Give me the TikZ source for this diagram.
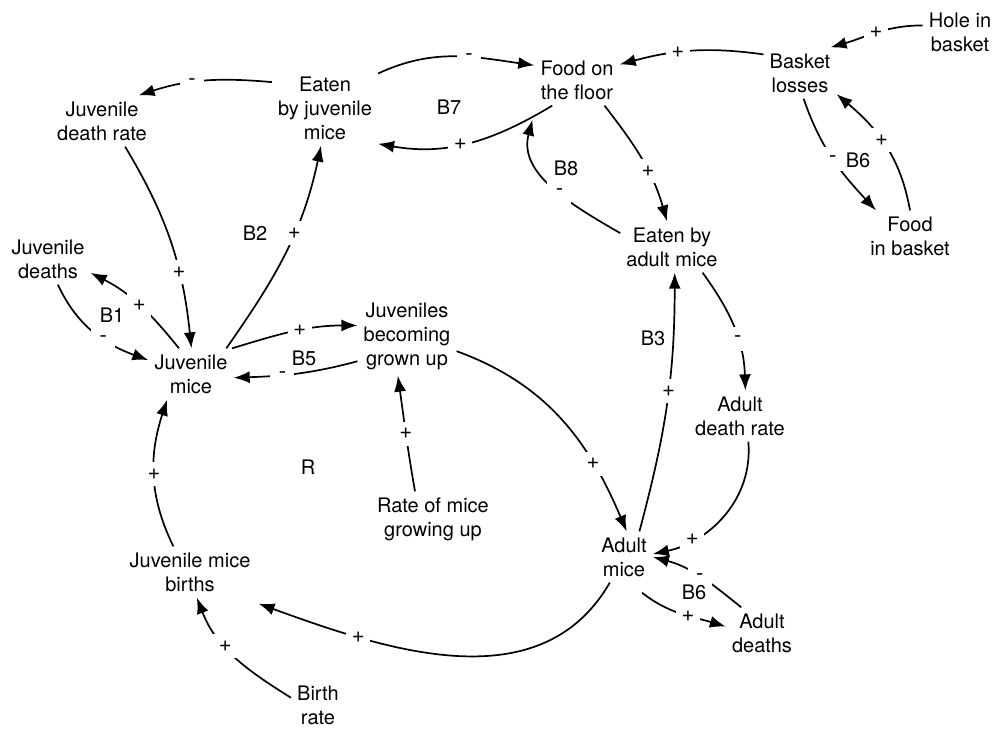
\documentclass[tikz,border=0pt]{standalone}
\usepackage{fontspec}
\setmainfont{TeX Gyre Heros}
\usetikzlibrary{arrows.meta}
\tikzset{var/.style={align=center,inner sep=6pt},
  sgn/.style={fill=white,inner sep=1pt,minimum size=24pt,font=\fontsize{22}{24}\selectfont},
  loopname/.style={inner sep=1pt},
  link/.style={-{Latex[length=16pt,width=12pt]},line width=1.7pt}}

\begin{document}
\begin{tikzpicture}[x=1pt,y=1pt,font=\fontsize{20}{24}\selectfont]
\useasboundingbox (0,0) rectangle (996,-729);
\node[var] (food) at (577,-80) {Food on\\the floor};
\node[var] (losses) at (800,-73) {Basket\\losses};
\node[var] (hole) at (960,-32) {Hole in\\basket};
\node[var] (jdrate) at (102,-121) {Juvenile\\death rate};
\node[var] (eatenj) at (325,-108) {Eaten\\by juvenile\\mice};
\node[var] (fbasket) at (910,-236) {Food\\in basket};
\node[var] (eatena) at (672,-247) {Eaten by\\adult mice};
\node[var] (jdeaths) at (48,-259) {Juvenile\\deaths};
\node[var] (jmice) at (191,-374) {Juvenile\\mice};
\node[var] (grown) at (407,-336) {Juveniles\\becoming\\grown up};
\node[var] (adrate) at (740,-416) {Adult\\death rate};
\node[var] (rategrow) at (433,-519) {Rate of mice\\growing up};
\node[var] (births) at (190,-572) {Juvenile mice\\births};
\node[var] (amice) at (624,-557) {Adult\\mice};
\node[var] (adeaths) at (762,-633) {Adult\\deaths};
\node[var] (brate) at (318,-705) {Birth\\rate};
\draw[link] (eatenj.154) to[out=175,in=18] node[sgn,pos=0.6]{-} (jdrate.35);
\draw[link] (eatenj.33) to[out=25,in=172] node[sgn,pos=0.6]{-} (food.161);
\draw[link] (food.226) to[out=211,in=-10] node[sgn,pos=0.55]{+} (eatenj.326);
\draw[link] (losses.153) to[out=172,in=15] node[sgn,pos=0.6]{+} (food.20);
\draw[link] (hole.170) to[out=180,in=16] node[sgn,pos=0.5]{+} (losses.40);
\draw[link] (losses.278) to[out=-71,in=133] node[sgn,pos=0.5]{-} (fbasket.143);
\draw[link] (fbasket.90) to[out=100,in=-40] node[sgn,pos=0.55]{+} (losses.330);
\draw[link] (food.317) to[out=-52,in=106] node[sgn,pos=0.6]{+} (eatena.101);
\draw[link] (eatena.165) to[out=150,in=255] node[sgn,pos=0.44]{-} ([shift={(-16,-14)}]food.222);
\draw[link] (jdrate.312) to[out=-59,in=96] node[sgn,pos=0.65]{+} (jmice.89);
\draw[link] (jmice.115) to[out=129,in=-27] node[sgn,pos=0.5]{+} (jdeaths.342);
\draw[link] (jdeaths.291) to[out=-65,in=160] node[sgn,pos=0.6]{-} (jmice.162);
\draw[link] (jmice.36) to[out=55,in=258] node[sgn,pos=0.6]{+} (eatenj.264);
\draw[link] (jmice.32) to[out=17,in=180] node[sgn,pos=0.55]{+} (grown.168);
\draw[link] (grown.207) to[out=195,in=2] node[sgn,pos=0.62]{-} (jmice.355);
\draw[link] (rategrow.123) to[out=100,in=278] node[sgn,pos=0.5]{+} (grown.257);
\draw[link] (grown.343) to[out=-20,in=113] node[sgn,pos=0.72]{+} (amice.84);
\draw[link] (amice.59) to[out=75,in=270] node[sgn,pos=0.55]{+} (eatena.276);
\draw[link] (eatena.320) to[out=-54,in=92] node[sgn,pos=0.6]{-} (adrate.78);
\draw[link] (adrate.288) to[out=-85,in=12] node[sgn,pos=0.75]{+} (amice.6);
\draw[link] (adeaths.129) to[out=141,in=-15] node[sgn,pos=0.5]{-} (amice.0);
\draw[link] ([yshift=-10pt]amice.305) to[out=-38,in=163] node[sgn,pos=0.58]{+} (adeaths.170);
\draw[link] (amice.241) to[out=240,in=340] node[sgn,pos=0.75]{+} ([shift={(2,-6)}]births.south east);
\draw[link] (brate.165) to[out=148,in=291] node[sgn,pos=0.6]{+} (births.285);
\draw[link] (births.123) to[out=116,in=252] node[sgn,pos=0.5]{+} (jmice.227);
\node[loopname] (b7) at (449,-107) {B7};
\node[loopname] (b8) at (566,-168) {B8};
\node[loopname] (b6a) at (858,-160) {B6};
\node[loopname] (b2) at (255,-233) {B2};
\node[loopname] (b1) at (112,-315) {B1};
\node[loopname] (b5) at (304,-358) {B5};
\node[loopname] (b3) at (653,-338) {B3};
\node[loopname] (r) at (308,-467) {R};
\node[loopname] (b6b) at (694,-592) {B6};
\end{tikzpicture}
\end{document}
